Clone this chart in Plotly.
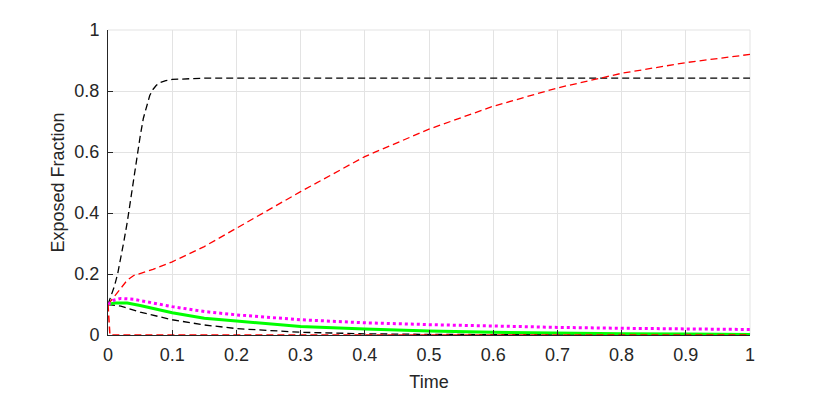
import plotly.graph_objects as go

# Black dashed, rising
t_blk_up = [0, 0.005, 0.01, 0.015, 0.02, 0.025, 0.03, 0.035, 0.04, 0.045, 0.05, 0.055, 0.06, 0.065, 0.07, 0.075, 0.08, 0.09, 0.1, 0.12, 0.15, 0.2, 0.3, 0.5, 0.7, 1.0]
y_blk_up = [0.1, 0.13, 0.16, 0.2, 0.25, 0.31, 0.37, 0.44, 0.52, 0.59, 0.65, 0.71, 0.75, 0.785, 0.805, 0.818, 0.827, 0.834, 0.838, 0.84, 0.842, 0.842, 0.842, 0.842, 0.842, 0.842]

# Red dashed, rising
t_red_up = [0, 0.015, 0.03, 0.04, 0.07, 0.1, 0.15, 0.2, 0.3, 0.4, 0.5, 0.6, 0.7, 0.8, 0.9, 1.0]
y_red_up = [0.1, 0.14, 0.18, 0.195, 0.215, 0.24, 0.29, 0.35, 0.47, 0.585, 0.675, 0.75, 0.81, 0.858, 0.893, 0.92]

# Black dashed, decaying
t_blk_dn = [0, 0.02, 0.05, 0.1, 0.15, 0.2, 0.3, 0.4, 0.5, 0.6, 0.8, 1.0]
y_blk_dn = [0.1, 0.095, 0.075, 0.05, 0.033, 0.021, 0.009, 0.004, 0.002, 0.001, 0.0, 0.0]

# Green solid
t_grn = [0, 0.01, 0.03, 0.05, 0.1, 0.15, 0.2, 0.3, 0.4, 0.5, 0.6, 0.7, 0.8, 0.9, 1.0]
y_grn = [0.1, 0.105, 0.105, 0.097, 0.073, 0.055, 0.046, 0.028, 0.02, 0.013, 0.009, 0.006, 0.0045, 0.003, 0.002]

# Magenta dotted
t_mag = [0, 0.01, 0.02, 0.04, 0.07, 0.1, 0.15, 0.2, 0.3, 0.4, 0.5, 0.6, 0.7, 0.8, 0.9, 1.0]
y_mag = [0.1, 0.115, 0.12, 0.117, 0.105, 0.093, 0.077, 0.066, 0.05, 0.04, 0.034, 0.029, 0.025, 0.022, 0.02, 0.018]

# Red dashed, immediate drop to zero
t_red_zero = [0, 0.003, 1.0]
y_red_zero = [0.1, 0.0, 0.0]

x_ticks = [0, 0.1, 0.2, 0.3, 0.4, 0.5, 0.6, 0.7, 0.8, 0.9, 1]
x_tick_labels = ["0", "0.1", "0.2", "0.3", "0.4", "0.5", "0.6", "0.7", "0.8", "0.9", "1"]
y_ticks = [0, 0.2, 0.4, 0.6, 0.8, 1]
y_tick_labels = ["0", "0.2", "0.4", "0.6", "0.8", "1"]

FONT = "Liberation Sans, Arial, sans-serif"
DASH = "7px,4px"
fig = go.Figure()
fig.add_trace(go.Scatter(x=t_blk_up, y=y_blk_up, mode="lines",
                         line=dict(color="black", width=1.3, dash=DASH)))
fig.add_trace(go.Scatter(x=t_red_up, y=y_red_up, mode="lines",
                         line=dict(color="#ff0000", width=1.3, dash=DASH)))
fig.add_trace(go.Scatter(x=t_blk_dn, y=y_blk_dn, mode="lines",
                         line=dict(color="black", width=1.3, dash=DASH)))
fig.add_trace(go.Scatter(x=t_grn, y=y_grn, mode="lines",
                         line=dict(color="#00ff00", width=3)))
fig.add_trace(go.Scatter(x=t_mag, y=y_mag, mode="lines",
                         line=dict(color="#ff00ff", width=3, dash="3px,3px")))
fig.add_trace(go.Scatter(x=t_red_zero, y=y_red_zero, mode="lines",
                         line=dict(color="#ff0000", width=1.5, dash=DASH)))

axis_common = dict(
    showgrid=True, gridcolor="#e3e3e3", gridwidth=1,
    zeroline=False, showline=True, linecolor="#262626", linewidth=1,
    ticks="inside", ticklen=5, tickcolor="#262626", tickwidth=1,
    tickfont=dict(family=FONT, size=18, color="#262626"),
    mirror=False, automargin=False,
)
fig.update_xaxes(range=[0, 1], tickvals=x_ticks, ticktext=x_tick_labels,
                 title=dict(text="Time", font=dict(family=FONT, size=18, color="#262626"), standoff=11),
                 ticklabelstandoff=3, **axis_common)
fig.update_yaxes(range=[0, 1], tickvals=y_ticks, ticktext=y_tick_labels,
                 title=dict(text="Exposed Fraction", font=dict(family=FONT, size=18, color="#262626"), standoff=5),
                 ticklabelstandoff=4, **axis_common)

# light grid lines on the top and right edges of the plot box
fig.add_shape(type="line", xref="paper", yref="paper", x0=0, x1=1, y0=1, y1=1,
              line=dict(color="#e3e3e3", width=1), layer="below")
fig.add_shape(type="line", xref="paper", yref="paper", x0=1, x1=1, y0=0, y1=1,
              line=dict(color="#e3e3e3", width=1), layer="below")

# page body has an 8px margin, so the figure is shifted by 8px
fig.update_layout(
    width=822, height=386,
    margin=dict(l=100, r=80, t=22, b=59),
    plot_bgcolor="white", paper_bgcolor="white",
    showlegend=False,
)
fig.write_html("out.html")
